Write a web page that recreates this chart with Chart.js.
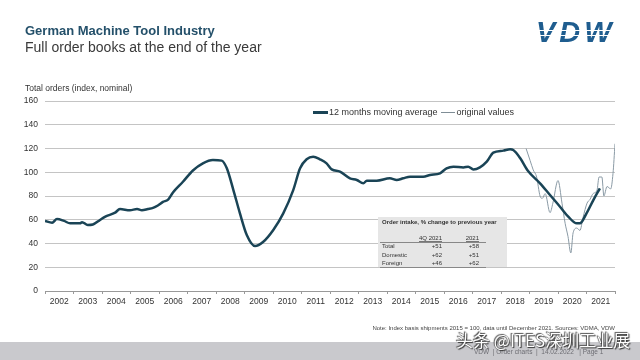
<!DOCTYPE html>
<html>
<head>
<meta charset="utf-8">
<script src="https://cdn.jsdelivr.net/npm/chart.js@4/dist/chart.umd.min.js"></script>
<style>
  body { margin: 0; background: #fff; font-family: "Liberation Sans", Arial, sans-serif; }
  #page { position: relative; width: 640px; height: 360px; overflow: hidden; background: #fff; }
  #page div { position: absolute; white-space: nowrap; }
  #page .legend { display: flex; align-items: center; font-size: 8.5px; color: #333; }
  #page .legend span { display: inline-block; }
  canvas { position: absolute; left: 0; top: 0; }
</style>
</head>
<body>
<div id="page">
  <canvas id="myChart" width="640" height="360"></canvas>

  <div style="left:25px; top:23px; font-size:13px; font-weight:bold; color:#24506a;">German Machine Tool Industry</div>
  <div style="left:25px; top:39px; font-size:14px; color:#3a3a3a;">Full order books at the end of the year</div>

  <div style="left:536px; top:16px; font-size:29px; font-weight:bold; font-style:italic; color:#1f5d8f; letter-spacing:4px;">VDW</div>
  <div style="left:534px; top:30px; width:86px; height:1px; background:#fff;"></div>
  <div style="left:534px; top:35px; width:86px; height:1px; background:#fff;"></div>

  <div style="left:25px; top:83px; font-size:8.5px; color:#333;">Total orders (index, nominal)</div>

  <!-- legend -->
  <div class="legend" style="left:313px; top:107px;">
    <span style="width:15px; height:3px; background:#1a4456; margin-right:1px;"></span>
    <span style="font-size:9px;">12 months moving average</span>
    <span style="width:14px; height:1px; background:#7f8d96; margin:0 2px 0 3px;"></span>
    <span style="font-size:9px;">original values</span>
  </div>

  <!-- inset table -->
  <div id="inset" style="left:378px; top:217px; width:129px; height:50px; background:#e6e6e6;">
  </div>

  <div style="right:25px; top:325px; font-size:6px; color:#444;">Note: Index basis shipments 2015 = 100, data until December 2021. Sources: VDMA, VDW</div>

  <div style="left:0; top:342px; width:640px; height:18px; background:#c9c9cd;"></div>
  <div style="left:474px; top:348px; font-size:6.5px; color:#6d6d73;">VDW &nbsp;| Order charts &nbsp;| &nbsp;14.02.2022 &nbsp;&nbsp;| Page 1</div>
  <div style="left:456px; top:327px; font-size:17px; color:#fff; font-family:'Noto Sans CJK SC', sans-serif; text-shadow:0 0 1px #333, 1px 1px 1px #333, -1px -1px 1px #555;">头条 @ITES深圳工业展</div>
</div>

<script>
// 12 months moving average (decimal year, index)
var avgYears = [2002.0, 2002.25, 2002.42, 2002.67, 2002.88, 2003.23, 2003.3, 2003.5, 2003.68, 2003.93,
  2004.1, 2004.46, 2004.63, 2004.98, 2005.23, 2005.4, 2005.61, 2005.79, 2005.96, 2006.14,
  2006.32, 2006.49, 2006.84, 2007.19, 2007.54, 2007.89, 2008.2, 2008.38, 2008.61, 2008.84,
  2009.08, 2009.37, 2009.66, 2010.01, 2010.36, 2010.71, 2010.95, 2011.18, 2011.41, 2011.65,
  2011.88, 2012.06, 2012.35, 2012.7, 2012.94, 2013.17, 2013.29, 2013.64, 2014.1, 2014.34,
  2014.57, 2014.81, 2015.27, 2015.51, 2015.86, 2016.09, 2016.33, 2016.68, 2016.85, 2017.03,
  2017.26, 2017.5, 2017.73, 2018.08, 2018.32, 2018.43, 2018.67, 2018.95, 2019.37, 2019.72,
  2020.07, 2020.36, 2020.66, 2020.77, 2021.0, 2021.24, 2021.47];
var avgValues = [59, 57.5, 60.6, 59, 57, 57, 58, 55.6, 56, 59.8,
  62.5, 66, 69, 68, 69, 68, 69, 70, 72, 75,
  77, 83, 92, 101.5, 107.5, 110.3, 109.8, 103.3, 85, 65.4,
  47.2, 37.9, 41.5, 51.4, 65.4, 85, 103.3, 110.9, 113.1, 110.9,
  107.5, 102.4, 100.5, 94.9, 93.5, 90.7, 92.9, 92.9, 94.9, 93.5,
  94.9, 96.3, 96.3, 97.7, 99.1, 103.3, 104.7, 104.1, 104.7, 102.4,
  104.1, 108.9, 116.5, 118.2, 119.3, 118.7, 112, 101, 90.7, 80.8,
  71, 62.6, 57, 57, 65.4, 76.6, 86.5];

// original values
var origYears = [2018.88, 2019.02, 2019.13, 2019.25, 2019.37, 2019.45, 2019.55, 2019.72, 2019.82, 2020.0,
  2020.14, 2020.25, 2020.35, 2020.45, 2020.53, 2020.66, 2020.77, 2020.88, 2021.02, 2021.12,
  2021.23, 2021.37, 2021.44, 2021.54, 2021.61, 2021.72, 2021.85, 2021.93, 2022.0];
var origValues = [120, 110, 102, 96, 80, 78, 82, 66, 74, 93,
  74, 57, 46, 32, 49, 53, 51, 62, 74, 77,
  82, 85, 96, 96, 80, 88, 86, 99, 124];

var yearLabels = ['2002', '2003', '2004', '2005', '2006', '2007', '2008', '2009', '2010', '2011',
  '2012', '2013', '2014', '2015', '2016', '2017', '2018', '2019', '2020', '2021'];

// inset table
var tableTitle = 'Order intake, % change to previous year';
var tableCols = ['4Q 2021', '2021'];
var tableRows = ['Total', 'Domestic', 'Foreign'];
var tableQ4 = ['+51', '+62', '+46'];
var tableYear = ['+58', '+51', '+62'];

function pairs(xs, ys) {
  return xs.map(function (x, i) { return { x: x, y: ys[i] }; });
}

function buildTable() {
  var box = document.getElementById('inset');
  var html = '<div style="left:4px; top:2px; font-size:6px; font-weight:bold; color:#333;">' + tableTitle + '</div>';
  html += '<div style="right:65px; top:18px; font-size:6px; color:#333; border-bottom:1px solid #777;">' + tableCols[0] + '</div>';
  html += '<div style="right:28px; top:18px; font-size:6px; color:#333; border-bottom:1px solid #777;">' + tableCols[1] + '</div>';
  html += '<div style="left:2px; top:25px; width:106px; height:1px; background:#888;"></div>';
  for (var i = 0; i < tableRows.length; i++) {
    var t = 26 + i * 8.5;
    html += '<div style="left:4px; top:' + t + 'px; font-size:6px; color:#333;">' + tableRows[i] + '</div>';
    html += '<div style="right:65px; top:' + t + 'px; font-size:6px; color:#333;">' + tableQ4[i] + '</div>';
    html += '<div style="right:28px; top:' + t + 'px; font-size:6px; color:#333;">' + tableYear[i] + '</div>';
  }
  html += '<div style="left:2px; top:50px; width:106px; height:1px; background:#888;"></div>';
  box.innerHTML = html;
}
buildTable();

var ctx = document.getElementById('myChart').getContext('2d');
var chart = new Chart(ctx, {
  type: 'line',
  data: {
    datasets: [{
      label: '12 months moving average',
      data: pairs(avgYears, avgValues),
      borderColor: '#1a4456',
      borderWidth: 2.5,
      cubicInterpolationMode: 'monotone',
      pointRadius: 0,
      xAxisID: 'x',
      yAxisID: 'y'
    }, {
      label: 'original values',
      data: pairs(origYears, origValues),
      borderColor: '#8a9aa5',
      borderWidth: 1,
      cubicInterpolationMode: 'monotone',
      pointRadius: 0,
      xAxisID: 'x',
      yAxisID: 'y'
    }]
  },
  options: {
    responsive: false,
    animation: false,
    devicePixelRatio: 1,
    layout: { padding: { left: 0, top: 101, right: 25, bottom: 49 } },
    plugins: { legend: { display: false }, tooltip: { enabled: false } },
    scales: {
      x: { type: 'linear', min: 2002, max: 2022, display: false },
      years: {
        type: 'category',
        labels: yearLabels,
        position: 'bottom',
        offset: true,
        afterFit: function (s) { s.height = 20; },
        grid: { offset: true, drawOnChartArea: false, tickLength: 3, color: '#999' },
        border: { color: '#999' },
        ticks: { color: '#333', font: { size: 8.5, family: 'Liberation Sans' }, padding: 3, maxRotation: 0, autoSkip: false }
      },
      y: {
        min: 0, max: 160,
        afterFit: function (s) { s.width = 45; },
        grid: { color: '#c4c4c4', drawTicks: false },
        border: { display: false },
        ticks: { stepSize: 20, color: '#333', padding: 7, font: { size: 8.5, family: 'Liberation Sans' } }
      }
    }
  }
});
</script>
</body>
</html>
